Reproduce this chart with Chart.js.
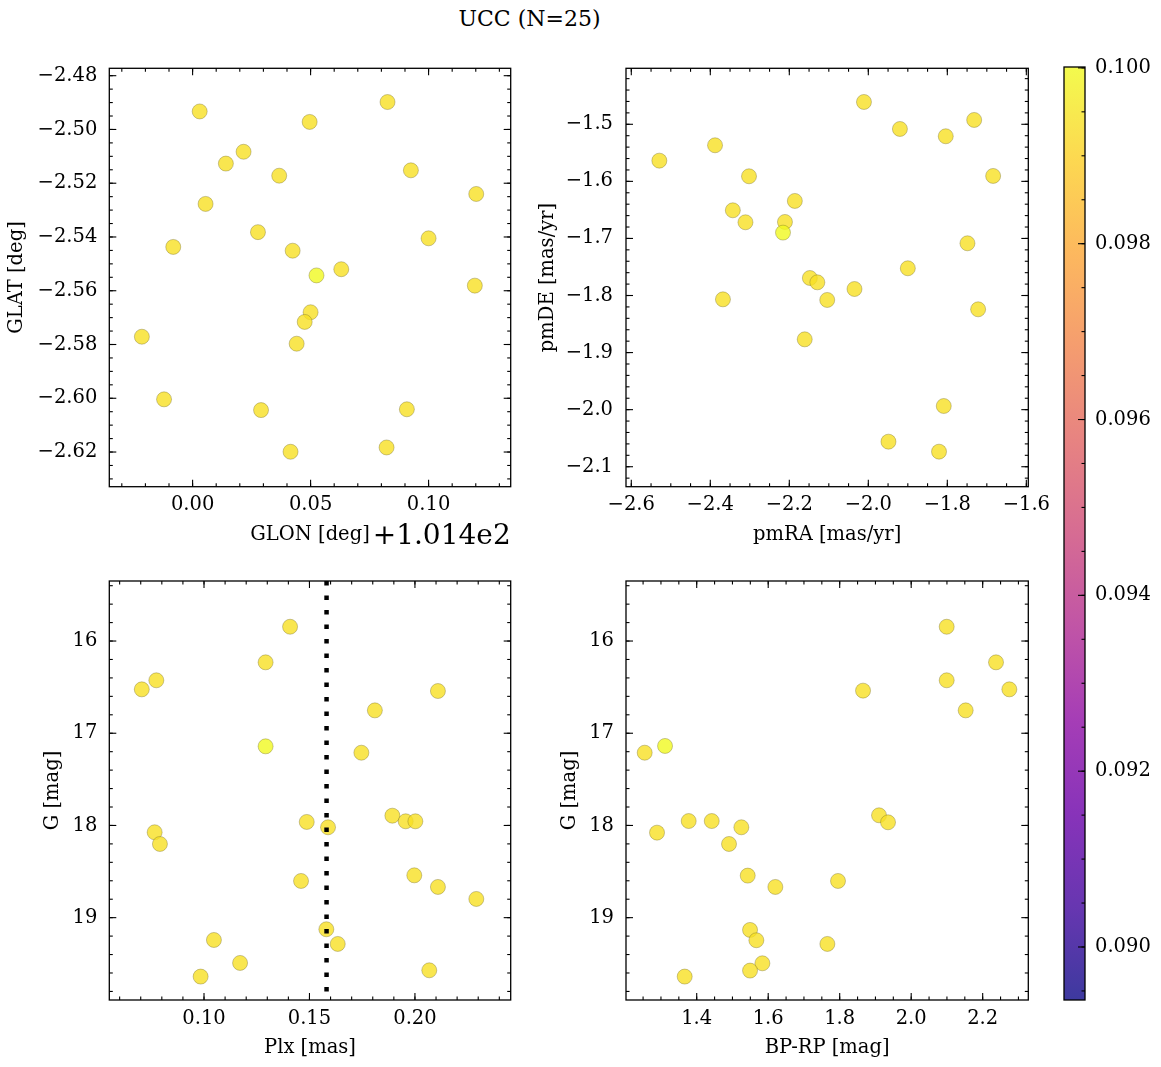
<!DOCTYPE html>
<html>
<head>
<meta charset="utf-8">
<script src="https://cdn.jsdelivr.net/npm/chart.js@4.4.1/dist/chart.umd.min.js"></script>
<style>
  body { margin: 0; background: #fff; width: 1161px; height: 1067px; position: relative; overflow: hidden; font-family: 'DejaVu Serif', serif; }
  canvas { position: absolute; }
  #title { position: absolute; top: 6px; left: 0; width: 1059px; text-align: center; font-size: 22px; color: #000; }
</style>
</head>
<body>
<div id="title">UCC (N=25)</div>
<canvas id="c1" width="560" height="530" style="left:0;top:40px"></canvas>
<canvas id="c2" width="560" height="530" style="left:520px;top:40px"></canvas>
<canvas id="c3" width="560" height="512" style="left:0;top:555px"></canvas>
<canvas id="c4" width="560" height="512" style="left:520px;top:555px"></canvas>
<canvas id="cb" width="121" height="1000" style="left:1040px;top:40px"></canvas>
<script>
// ── Panel 1: GLON / GLAT ──
const glon = [101.4030, 101.4496, 101.4826, 101.4216, 101.4141, 101.4367, 101.4925, 101.5202, 101.4055, 101.4277,
              101.3918, 101.4424, 101.5000, 101.4525, 101.4630, 101.5196, 101.4500, 101.4475, 101.3785, 101.4441,
              101.3879, 101.4290, 101.4908, 101.4415, 101.4822];
const glat = [-2.4933, -2.4972, -2.4898, -2.5083, -2.5127, -2.5172, -2.5152, -2.5240, -2.5277, -2.5382,
              -2.5437, -2.5451, -2.5405, -2.5543, -2.5520, -2.5581, -2.5680, -2.5716, -2.5771, -2.5797,
              -2.6004, -2.6044, -2.6041, -2.6199, -2.6183];
const prob1 = [0.0994, 0.0994, 0.0994, 0.0994, 0.0994, 0.0994, 0.0994, 0.0994, 0.0994, 0.0994,
               0.0994, 0.0994, 0.0994, 0.1000, 0.0994, 0.0994, 0.0994, 0.0994, 0.0994, 0.0994,
               0.0994, 0.0994, 0.0994, 0.0994, 0.0994];

// ── Panel 2: pmRA / pmDE ──
const pmra = [-2.529, -2.388, -2.302, -2.343, -2.311, -2.211, -2.216, -2.186, -2.368, -2.148,
              -2.129, -2.104, -2.161, -2.035, -2.011, -1.920, -1.900, -1.949, -1.804, -1.732,
              -1.684, -1.749, -1.722, -1.809, -1.821];
const pmde = [-1.5637, -1.5368, -1.5911, -1.6507, -1.6717, -1.6711, -1.6898, -1.6343, -1.8067, -1.7693,
              -1.7769, -1.8078, -1.8768, -1.7886, -1.4609, -1.5082, -1.7523, -2.0561, -1.5210, -1.4924,
              -1.5905, -1.7085, -1.8242, -1.9936, -2.0736];
const prob2 = [0.0994, 0.0994, 0.0994, 0.0994, 0.0994, 0.0994, 0.1000, 0.0994, 0.0994, 0.0994,
               0.0994, 0.0994, 0.0994, 0.0994, 0.0994, 0.0994, 0.0994, 0.0994, 0.0994, 0.0994,
               0.0994, 0.0994, 0.0994, 0.0994, 0.0994];

// ── Panel 3: Plx / G ──
const plx = [0.1408, 0.1292, 0.0705, 0.0774, 0.2109, 0.1810, 0.1292, 0.1746, 0.1487, 0.1588,
             0.1893, 0.1956, 0.2002, 0.0766, 0.0791, 0.1460, 0.1997, 0.2109, 0.2291, 0.1580,
             0.1634, 0.1047, 0.1171, 0.0984, 0.2068];
const gPlx = [15.845, 16.231, 16.524, 16.426, 16.542, 16.752, 17.142, 17.211, 17.962, 18.020,
              17.894, 17.955, 17.955, 18.074, 18.201, 18.602, 18.541, 18.667, 18.797, 19.126,
              19.285, 19.242, 19.491, 19.639, 19.571];
const prob3 = [0.0994, 0.0994, 0.0994, 0.0994, 0.0994, 0.0994, 0.1000, 0.0994, 0.0994, 0.0994,
               0.0994, 0.0994, 0.0994, 0.0994, 0.0994, 0.0994, 0.0994, 0.0994, 0.0994, 0.0994,
               0.0994, 0.0994, 0.0994, 0.0994, 0.0994];
const plxMedian = 0.1581;

// ── Panel 4: BP-RP / G (one star has no colour) ──
const bprp = [2.0993, 2.2373, 2.0993, 2.2746, 1.8653, 2.1524, 1.2545, 1.3114, 1.2890, 1.3776,
              1.4420, 1.5249, 1.4904, 1.9100, 1.9352, 1.5427, 1.6200, 1.7953, 1.5492, 1.5669,
              1.7655, 1.5837, 1.5492, 1.3664];
const gCol = [15.845, 16.231, 16.426, 16.524, 16.538, 16.752, 17.211, 17.138, 18.078, 17.952,
              17.952, 18.020, 18.201, 17.890, 17.966, 18.544, 18.667, 18.602, 19.133, 19.245,
              19.285, 19.495, 19.574, 19.639];
const prob4 = [0.0994, 0.0994, 0.0994, 0.0994, 0.0994, 0.0994, 0.0994, 0.1000, 0.0994, 0.0994,
               0.0994, 0.0994, 0.0994, 0.0994, 0.0994, 0.0994, 0.0994, 0.0994, 0.0994, 0.0994,
               0.0994, 0.0994, 0.0994, 0.0994];

// Tick labels (major tick values)
const glonTicks = [101.40, 101.45, 101.50];
const glatTicks = [-2.48, -2.50, -2.52, -2.54, -2.56, -2.58, -2.60, -2.62];
const pmraTicks = [-2.6, -2.4, -2.2, -2.0, -1.8, -1.6];
const pmdeTicks = [-1.5, -1.6, -1.7, -1.8, -1.9, -2.0, -2.1];
const plxTicks = [0.10, 0.15, 0.20];
const gTicks = [16, 17, 18, 19];
const bprpTicks = [1.4, 1.6, 1.8, 2.0, 2.2];
const cbTicks = [0.090, 0.092, 0.094, 0.096, 0.098, 0.100];

// Colour scale limits
const cbMin = 0.089397, cbMax = 0.10001;

// plasma colormap stops
const plasma = [[13, 8, 135], [65, 4, 157], [106, 0, 168], [143, 13, 164], [177, 42, 144], [204, 71, 120],
                [225, 100, 98], [242, 132, 75], [252, 166, 54], [252, 206, 37], [240, 249, 33]];
const ALPHA = 0.8;

function plasmaAt(t) {
  t = Math.max(0, Math.min(1, t)) * 10;
  const i = Math.min(9, Math.floor(t)), f = t - i;
  return plasma[i].map((c, k) => Math.round(c + (plasma[i + 1][k] - c) * f));
}
function colorOf(v) {
  const [r, g, b] = plasmaAt((v - cbMin) / (cbMax - cbMin));
  return `rgba(${r},${g},${b},${ALPHA})`;
}

const FONT = 'DejaVu Serif';
const tickFont = { family: FONT, size: 19.5 };
const titleFont = { family: FONT, size: 19.5 };
const minus = d => v => (v < 0 ? '\u2212' : '') + Math.abs(v).toFixed(d);

// Frame + inward major/minor ticks on all four sides
const frameTicks = {
  id: 'frameTicks',
  afterDatasetsDraw(chart, args, opts) {
    const { ctx, chartArea: a, scales } = chart;
    ctx.save();
    ctx.strokeStyle = '#000';
    ctx.lineWidth = 1.1;
    const seg = (x1, y1, x2, y2) => { ctx.beginPath(); ctx.moveTo(x1, y1); ctx.lineTo(x2, y2); ctx.stroke(); };
    const minors = (s, step) => {
      const out = [];
      for (let k = Math.ceil(s.min / step - 1e-6); k * step <= s.max + 1e-9; k++) out.push(k * step);
      return out;
    };
    const marks = (s, vals, len, sides) => {
      vals.forEach(v => {
        const p = s.getPixelForValue(v);
        if (s.isHorizontal()) {
          if (p < a.left || p > a.right) return;
          seg(p, a.bottom, p, a.bottom - len);
          seg(p, a.top, p, a.top + len);
        } else {
          if (p < a.top || p > a.bottom) return;
          if (sides !== 'right') seg(a.left, p, a.left + len, p);
          seg(a.right, p, a.right - len, p);
        }
      });
    };
    if (opts.cbar) {
      const s = scales.y;
      marks(s, s.ticks.map(t => t.value), 7, 'right');
      marks(s, minors(s, opts.yMinor), 3.5, 'right');
    } else {
      ['x', 'y'].forEach(id => {
        const s = scales[id];
        marks(s, s.ticks.map(t => t.value), 7);
        marks(s, minors(s, opts[id + 'Minor']), 3.5);
      });
    }
    ctx.lineWidth = 1.3;
    ctx.strokeRect(a.left, a.top, a.right - a.left, a.bottom - a.top);
    if (opts.offsetText) {
      ctx.fillStyle = '#000';
      ctx.font = `28px '${FONT}'`;
      ctx.textAlign = 'right';
      ctx.textBaseline = 'middle';
      ctx.fillText(opts.offsetText, a.right, a.bottom + 50);
    }
    ctx.restore();
  }
};

function axis(o) {
  return {
    type: 'linear',
    position: o.position,
    min: o.min, max: o.max,
    reverse: !!o.reverse,
    afterBuildTicks: s => { s.ticks = o.ticks.map(v => ({ value: v })); },
    afterFit: s => { if (o.position === 'bottom') s.height = o.size; else s.width = o.size; },
    grid: { display: false, drawTicks: false },
    border: { display: false },
    ticks: { font: tickFont, color: '#000', padding: o.pad, autoSkip: false, maxRotation: 0, callback: o.fmt },
    title: { display: true, text: o.title, font: titleFont, color: '#000', padding: o.titlePad }
  };
}

function scatterPanel(id, p) {
  const pts = p.x.map((x, i) => ({ x, y: p.y[i] }));
  const datasets = [{
    data: pts,
    backgroundColor: p.c.map(colorOf),
    borderColor: 'rgba(110,100,40,0.6)',
    borderWidth: 0.6,
    pointRadius: 7.5,
    pointHoverRadius: 7.5,
    order: 1
  }].concat(p.extra || []);
  return new Chart(document.getElementById(id), {
    type: 'scatter',
    data: { datasets },
    options: {
      responsive: false, animation: false, devicePixelRatio: 1,
      layout: { padding: p.pad },
      plugins: { legend: { display: false }, tooltip: { enabled: false }, frameTicks: p.ticks },
      scales: { x: axis(p.xAxis), y: axis(p.yAxis) }
    },
    plugins: [frameTicks]
  });
}

// ── 1. GLON vs GLAT ──
scatterPanel('c1', {
  x: glon, y: glat, c: prob1,
  pad: { left: 0, top: 28.3, right: 49.3, bottom: 13.3 },
  ticks: { xMinor: 0.01, yMinor: 0.005, offsetText: '+1.014e2' },
  xAxis: { position: 'bottom', min: 101.3647, max: 101.5348, ticks: glonTicks, size: 70, pad: 6.5,
           fmt: v => (v - 101.4).toFixed(2), title: 'GLON [deg]', titlePad: { top: 0, bottom: 10 } },
  yAxis: { position: 'left', min: -2.6329, max: -2.47725, ticks: glatTicks, size: 109.3, pad: 12,
           fmt: minus(2), title: 'GLAT [deg]', titlePad: { top: 5.5, bottom: 0 } }
});

// ── 2. pmRA vs pmDE ──
scatterPanel('c2', {
  x: pmra, y: pmde, c: prob2,
  pad: { left: 0, top: 28.3, right: 51.7, bottom: 13.3 },
  ticks: { xMinor: 0.05, yMinor: 0.02 },
  xAxis: { position: 'bottom', min: -2.6134, max: -1.595, ticks: pmraTicks, size: 70, pad: 6.5,
           fmt: minus(1), title: 'pmRA [mas/yr]', titlePad: { top: 0, bottom: 10 } },
  yAxis: { position: 'left', min: -2.135, max: -1.4019, ticks: pmdeTicks, size: 106, pad: 13,
           fmt: minus(1), title: 'pmDE [mas/yr]', titlePad: { top: 16.5, bottom: 0 } }
});

// ── 3. Plx vs G, with dotted median parallax line ──
scatterPanel('c3', {
  x: plx, y: gPlx, c: prob3,
  pad: { left: 0, top: 26, right: 49.3, bottom: 5 },
  ticks: { xMinor: 0.01, yMinor: 0.2 },
  extra: [{
    type: 'line',
    data: [{ x: plxMedian, y: 15.349 }, { x: plxMedian, y: 19.893 }],
    borderColor: '#000', borderWidth: 4.5, borderDash: [4.5, 10], borderCapStyle: 'butt',
    pointRadius: 0, fill: false, order: 0
  }],
  xAxis: { position: 'bottom', min: 0.0551, max: 0.2454, ticks: plxTicks, size: 62, pad: 7,
           fmt: v => v.toFixed(2), title: 'Plx [mas]', titlePad: { top: 0, bottom: 2 } },
  yAxis: { position: 'left', min: 15.349, max: 19.893, reverse: true, ticks: gTicks, size: 109.3, pad: 12,
           fmt: v => v.toFixed(0), title: 'G [mag]', titlePad: { top: 41.5, bottom: 0 } }
});

// ── 4. BP-RP vs G ──
scatterPanel('c4', {
  x: bprp, y: gCol, c: prob4,
  pad: { left: 0, top: 26, right: 51.7, bottom: 5 },
  ticks: { xMinor: 0.05, yMinor: 0.2 },
  xAxis: { position: 'bottom', min: 1.2022, max: 2.3276, ticks: bprpTicks, size: 62, pad: 7,
           fmt: v => v.toFixed(1), title: 'BP-RP [mag]', titlePad: { top: 0, bottom: 2 } },
  yAxis: { position: 'left', min: 15.349, max: 19.893, reverse: true, ticks: gTicks, size: 106, pad: 12,
           fmt: v => v.toFixed(0), title: 'G [mag]', titlePad: { top: 38.5, bottom: 0 } }
});

// ── 5. Colour bar ──
const cbGradient = {
  id: 'cbGradient',
  beforeDatasetsDraw(chart) {
    const { ctx, chartArea: a, scales } = chart;
    const s = scales.y;
    const g = ctx.createLinearGradient(0, s.getPixelForValue(cbMin), 0, s.getPixelForValue(cbMax));
    plasma.forEach((c, i) => g.addColorStop(i / 10, `rgba(${c[0]},${c[1]},${c[2]},${ALPHA})`));
    ctx.save();
    ctx.fillStyle = g;
    ctx.fillRect(a.left, a.top, a.right - a.left, a.bottom - a.top);
    ctx.restore();
  }
};

new Chart(document.getElementById('cb'), {
  type: 'scatter',
  data: { datasets: [{ data: [] }] },
  options: {
    responsive: false, animation: false, devicePixelRatio: 1,
    layout: { padding: { left: 24, top: 27, right: 0, bottom: 40 } },
    plugins: { legend: { display: false }, tooltip: { enabled: false }, frameTicks: { cbar: true, yMinor: 0.0005 } },
    scales: {
      x: { display: false, min: 0, max: 1 },
      y: {
        type: 'linear', position: 'right', min: cbMin, max: cbMax,
        afterBuildTicks: s => { s.ticks = cbTicks.map(v => ({ value: v })); },
        afterFit: s => { s.width = 76; },
        grid: { display: false, drawTicks: false },
        border: { display: false },
        ticks: { font: tickFont, color: '#000', padding: 10, autoSkip: false, callback: v => v.toFixed(3) }
      }
    }
  },
  plugins: [cbGradient, frameTicks]
});
</script>
</body>
</html>
